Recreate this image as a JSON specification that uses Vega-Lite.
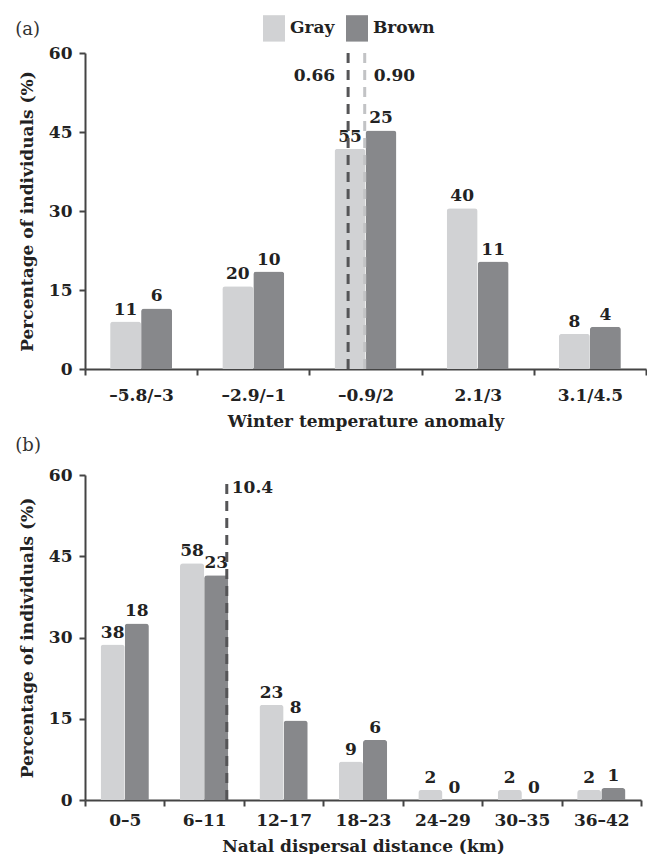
{
  "$schema": "https://vega.github.io/schema/vega-lite/v6.json",
  "padding": {"left": 15, "top": 17, "right": 2, "bottom": 0},
  "background": "white",
  "datasets": {
    "temp": [
      {"bin": "–5.8/–3", "group": "Gray", "pct": 9.0, "n": 11},
      {"bin": "–5.8/–3", "group": "Brown", "pct": 11.5, "n": 6},
      {"bin": "–2.9/–1", "group": "Gray", "pct": 15.7, "n": 20},
      {"bin": "–2.9/–1", "group": "Brown", "pct": 18.5, "n": 10},
      {"bin": "–0.9/2", "group": "Gray", "pct": 41.8, "n": 55},
      {"bin": "–0.9/2", "group": "Brown", "pct": 45.3, "n": 25},
      {"bin": "2.1/3", "group": "Gray", "pct": 30.5, "n": 40},
      {"bin": "2.1/3", "group": "Brown", "pct": 20.4, "n": 11},
      {"bin": "3.1/4.5", "group": "Gray", "pct": 6.7, "n": 8},
      {"bin": "3.1/4.5", "group": "Brown", "pct": 8.0, "n": 4}
    ],
    "dist": [
      {"bin": "0–5", "group": "Gray", "pct": 28.7, "n": 38},
      {"bin": "0–5", "group": "Brown", "pct": 32.6, "n": 18},
      {"bin": "6–11", "group": "Gray", "pct": 43.7, "n": 58},
      {"bin": "6–11", "group": "Brown", "pct": 41.5, "n": 23},
      {"bin": "12–17", "group": "Gray", "pct": 17.6, "n": 23},
      {"bin": "12–17", "group": "Brown", "pct": 14.7, "n": 8},
      {"bin": "18–23", "group": "Gray", "pct": 7.1, "n": 9},
      {"bin": "18–23", "group": "Brown", "pct": 11.1, "n": 6},
      {"bin": "24–29", "group": "Gray", "pct": 1.85, "n": 2},
      {"bin": "24–29", "group": "Brown", "pct": 0, "n": 0},
      {"bin": "30–35", "group": "Gray", "pct": 1.85, "n": 2},
      {"bin": "30–35", "group": "Brown", "pct": 0, "n": 0},
      {"bin": "36–42", "group": "Gray", "pct": 1.85, "n": 2},
      {"bin": "36–42", "group": "Brown", "pct": 2.2, "n": 1}
    ]
  },
  "config": {
    "font": "DejaVu Serif",
    "view": {"stroke": null},
    "axis": {
      "labelFont": "DejaVu Serif", "labelFontSize": 17, "labelFontWeight": "bold", "labelColor": "#222",
      "titleFont": "DejaVu Serif", "titleFontSize": 17, "titleFontWeight": "bold", "titleColor": "#222",
      "domainColor": "#444", "domainWidth": 2, "tickColor": "#444", "tickWidth": 2, "tickSize": 6, "grid": false
    },
    "title": {"font": "DejaVu Serif", "fontSize": 18, "fontWeight": "normal", "anchor": "start", "frame": "bounds", "color": "#333"},
    "text": {"font": "DejaVu Serif", "fontSize": 17, "fontWeight": "bold", "color": "#222"}
  },
  "spacing": 8,
  "resolve": {"scale": {"x": "independent", "y": "independent", "xOffset": "independent", "color": "independent"}, "legend": {"color": "independent"}},
  "vconcat": [
    {
      "title": {"text": "(a)", "dx": -3, "offset": -22},
      "width": 561,
      "height": 316,
      "layer": [
        {
          "data": {"name": "temp"},
          "mark": {"type": "bar", "cornerRadiusTopLeft": 3, "cornerRadiusTopRight": 3},
          "encoding": {
            "x": {"field": "bin", "type": "nominal",
              "scale": {"domain": ["–5.8/–3", "–2.9/–1", "–0.9/2", "2.1/3", "3.1/4.5"], "paddingInner": 0, "paddingOuter": 0},
              "axis": {"title": "Winter temperature anomaly", "labelAngle": 0, "tickBand": "extent", "labelPadding": 12, "titlePadding": 10}},
            "xOffset": {"field": "group", "type": "nominal", "scale": {"domain": ["Gray", "Brown"], "paddingInner": 0, "paddingOuter": 0.81}},
            "y": {"field": "pct", "type": "quantitative", "scale": {"domain": [0, 60]},
              "axis": {"title": "Percentage of individuals (%)", "values": [0, 15, 30, 45, 60], "titlePadding": 12, "labelPadding": 7}},
            "color": {"field": "group", "type": "nominal",
              "scale": {"domain": ["Gray", "Brown"], "range": ["#d1d2d4", "#87888b"]},
              "legend": {"orient": "none", "direction": "horizontal", "legendX": 178, "legendY": -36, "title": null,
                "symbolType": "M-1,-1.2H1V1.2H-1Z", "symbolSize": 484, "symbolStrokeWidth": 0,
                "labelFont": "DejaVu Serif", "labelFontSize": 17, "labelFontWeight": "bold", "labelColor": "#222",
                "labelOffset": 5, "columnPadding": 11}}
          }
        },
        {
          "data": {"name": "temp"},
          "mark": {"type": "text", "baseline": "alphabetic", "dy": -7},
          "encoding": {
            "x": {"field": "bin", "type": "nominal"},
            "xOffset": {"field": "group", "type": "nominal"},
            "y": {"field": "pct", "type": "quantitative"},
            "text": {"field": "n", "type": "quantitative"}
          }
        },
        {
          "data": {"values": [{"bin": "–0.9/2", "label": "0.66"}]},
          "mark": {"type": "rule", "strokeDash": [10, 7], "strokeWidth": 3, "color": "#555557"},
          "encoding": {"x": {"field": "bin", "type": "nominal", "bandPosition": 0.345}, "y": {"datum": 0}, "y2": {"datum": 60}}
        },
        {
          "data": {"values": [{"bin": "–0.9/2", "label": "0.66"}]},
          "mark": {"type": "text", "align": "right", "baseline": "middle", "dx": -13},
          "encoding": {"x": {"field": "bin", "type": "nominal", "bandPosition": 0.345}, "y": {"datum": 55.6}, "text": {"field": "label"}}
        },
        {
          "data": {"values": [{"bin": "–0.9/2", "label": "0.90"}]},
          "mark": {"type": "rule", "strokeDash": [10, 7], "strokeWidth": 3, "color": "#c2c3c5"},
          "encoding": {"x": {"field": "bin", "type": "nominal", "bandPosition": 0.493}, "y": {"datum": 0}, "y2": {"datum": 60}}
        },
        {
          "data": {"values": [{"bin": "–0.9/2", "label": "0.90"}]},
          "mark": {"type": "text", "align": "left", "baseline": "middle", "dx": 9},
          "encoding": {"x": {"field": "bin", "type": "nominal", "bandPosition": 0.493}, "y": {"datum": 55.6}, "text": {"field": "label"}}
        }
      ]
    },
    {
      "title": {"text": "(b)", "dx": -3, "offset": 11},
      "width": 556,
      "height": 325,
      "layer": [
        {
          "data": {"name": "dist"},
          "mark": {"type": "bar", "cornerRadiusTopLeft": 3, "cornerRadiusTopRight": 3},
          "encoding": {
            "x": {"field": "bin", "type": "nominal",
              "scale": {"domain": ["0–5", "6–11", "12–17", "18–23", "24–29", "30–35", "36–42"], "paddingInner": 0, "paddingOuter": 0},
              "axis": {"title": "Natal dispersal distance (km)", "labelAngle": 0, "tickBand": "extent", "labelPadding": 6, "titlePadding": 10}},
            "xOffset": {"field": "group", "type": "nominal", "scale": {"domain": ["Gray", "Brown"], "paddingInner": 0, "paddingOuter": 0.645}},
            "y": {"field": "pct", "type": "quantitative", "scale": {"domain": [0, 60]},
              "axis": {"title": "Percentage of individuals (%)", "values": [0, 15, 30, 45, 60], "titlePadding": 12, "labelPadding": 7}},
            "color": {"field": "group", "type": "nominal",
              "scale": {"domain": ["Gray", "Brown"], "range": ["#d1d2d4", "#87888b"]}, "legend": null}
          }
        },
        {
          "data": {"name": "dist"},
          "mark": {"type": "text", "baseline": "alphabetic", "dy": -7},
          "encoding": {
            "x": {"field": "bin", "type": "nominal"},
            "xOffset": {"field": "group", "type": "nominal"},
            "y": {"field": "pct", "type": "quantitative"},
            "text": {"field": "n", "type": "quantitative"}
          }
        },
        {
          "data": {"values": [{"bin": "6–11", "label": "10.4"}]},
          "mark": {"type": "rule", "strokeDash": [10, 7], "strokeWidth": 3, "color": "#555557"},
          "encoding": {"x": {"field": "bin", "type": "nominal", "bandPosition": 0.785}, "y": {"datum": 0}, "y2": {"datum": 59}}
        },
        {
          "data": {"values": [{"bin": "6–11", "label": "10.4"}]},
          "mark": {"type": "text", "align": "left", "baseline": "middle", "dx": 5},
          "encoding": {"x": {"field": "bin", "type": "nominal", "bandPosition": 0.785}, "y": {"datum": 57.6}, "text": {"field": "label"}}
        }
      ]
    }
  ]
}
